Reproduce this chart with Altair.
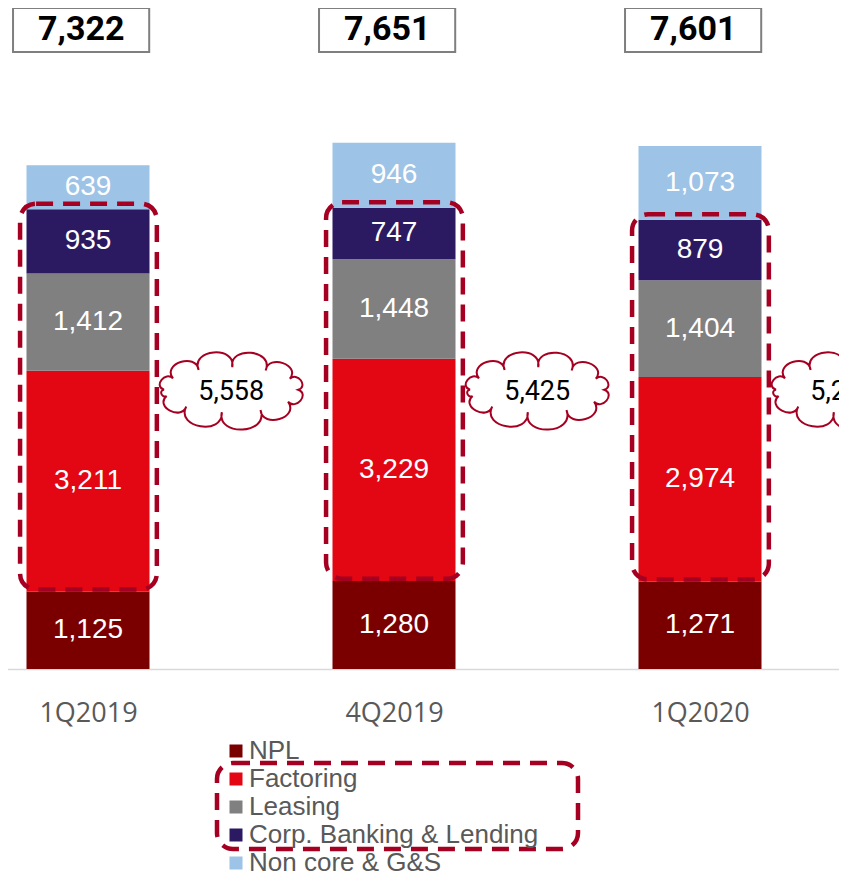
import altair as alt
import numpy as np
import pandas as pd

# ---------------- data ----------------
periods = ["1Q2019", "4Q2019", "1Q2020"]
segments = ["NPL", "Factoring", "Leasing", "Corp. Banking & Lending", "Non core & G&S"]
npl = [1125, 1280, 1271]
factoring = [3211, 3229, 2974]
leasing = [1412, 1448, 1404]
corp = [935, 747, 879]
noncore = [639, 946, 1073]
totals = [7322, 7651, 7601]
core_totals = [5558, 5425, 5257]
colors = ["#7A0000", "#E30613", "#808080", "#2B1A62", "#9DC3E6"]

series = [npl, factoring, leasing, corp, noncore]

rows = []
for i, p in enumerate(periods):
    base = 0
    for s, vals in zip(segments, series):
        v = vals[i]
        rows.append({"idx": i, "period": p, "segment": s, "value": v,
                     "y0": base, "y1": base + v, "mid": base + v / 2,
                     "label": f"{v:,}"})
        base += v
seg_df = pd.DataFrame(rows)

grp_df = pd.DataFrame({
    "idx": list(range(len(periods))),
    "total": [f"{t:,}" for t in totals],
    "core": [f"{c:,}" for c in core_totals],
    "r0": [npl[i] + 30 for i in range(3)],
    "r1": [npl[i] + factoring[i] + leasing[i] + corp[i] + 80 for i in range(3)],
})
grp_df["x0"] = grp_df["idx"] - 0.222
grp_df["x1"] = grp_df["idx"] + 0.225
grp_df["bx0"] = grp_df["idx"] - 0.245
grp_df["bx1"] = grp_df["idx"] + 0.20
grp_df["bxc"] = grp_df["idx"] - 0.022
grp_df["cx"] = grp_df["idx"] + 0.468


# ---------------- cloud shape ----------------
def cloud_path():
    rx, ry = 0.78, 0.30
    angs = np.deg2rad([180, 210, 241, 271, 301, 331, 360, 392, 424, 458, 492, 524])
    pts = np.array([[rx * np.cos(a), ry * np.sin(a)] for a in angs])
    n = len(pts)
    segs = []
    for k in range(n):
        p1 = pts[k]
        p2 = pts[(k + 1) % n]
        d = p2 - p1
        L = np.hypot(*d)
        t = d / L
        nrm = np.array([t[1], -t[0]])
        mid = (p1 + p2) / 2
        if np.dot(nrm, mid) < 0:
            nrm = -nrm
        h = 0.72 * L
        kk = 0.18 * L
        c1 = p1 + nrm * h - t * kk
        c2 = p2 + nrm * h + t * kk
        segs.append((p1, c1, c2, p2))
    ts = np.linspace(0, 1, 60)
    allp = []
    for p1, c1, c2, p2 in segs:
        for tt in ts:
            q = ((1 - tt) ** 3) * p1 + 3 * ((1 - tt) ** 2) * tt * c1 + 3 * (1 - tt) * tt * tt * c2 + tt ** 3 * p2
            allp.append(q)
    allp = np.array(allp)
    cxm = (allp[:, 0].max() + allp[:, 0].min()) / 2
    cym = (allp[:, 1].max() + allp[:, 1].min()) / 2
    sx = 1.0 / ((allp[:, 0].max() - allp[:, 0].min()) / 2)
    sy = 0.54 / ((allp[:, 1].max() - allp[:, 1].min()) / 2)

    def f(p):
        return f"{(p[0] - cxm) * sx:.4f},{(p[1] - cym) * sy:.4f}"

    s = "M" + f(segs[0][0])
    for p1, c1, c2, p2 in segs:
        s += " C" + f(c1) + " " + f(c2) + " " + f(p2)
    s += " Z"
    return s


CLOUD = cloud_path()

# ---------------- scales ----------------
STEP = 306.0
C0 = 80.0
W = 831
H = 661
x_scale = alt.Scale(domain=[(-8 - C0) / STEP, (W - C0) / STEP], range=[-8, W],
                    nice=False, zero=False, padding=0)
y_scale = alt.Scale(domain=[0, H / 0.0688], nice=False, zero=True, padding=0)

label_expr = "[" + ",".join(f"'{p}'" for p in periods) + "][datum.value]"

x_enc = alt.X("idx:Q", scale=x_scale,
              axis=alt.Axis(values=list(range(len(periods))), labelExpr=label_expr,
                            grid=False, ticks=False, title=None,
                            domainColor="#D9D9D9", domainWidth=1.5,
                            labelFont="Open Sans", labelFontSize=27, labelColor="#595959",
                            labelPadding=31, labelFlush=False, labelOverlap=False))

bars = alt.Chart(seg_df).mark_bar(width=123).encode(
    x=x_enc,
    y=alt.Y("y0:Q", scale=y_scale, axis=None),
    y2="y1:Q",
    color=alt.Color("segment:N",
                    scale=alt.Scale(domain=segments, range=colors),
                    sort=segments,
                    legend=alt.Legend(orient="none", legendX=215, legendY=730, title=None,
                                      symbolType="square", symbolSize=169, symbolStrokeWidth=0,
                                      symbolOpacity=1, labelLimit=0,
                                      labelFont="Liberation Sans", labelFontSize=26,
                                      labelColor="#595959", labelOffset=0, rowPadding=2,
                                      padding=0)),
)

seg_text = alt.Chart(seg_df).mark_text(font="Liberation Sans", fontSize=28, color="white",
                                       baseline="middle", align="center").encode(
    x=alt.X("idx:Q", scale=x_scale),
    y=alt.Y("mid:Q", scale=y_scale),
    text="label:N",
)

dash_rect = alt.Chart(grp_df).mark_rect(fillOpacity=0, stroke="#A50021", strokeWidth=4.5,
                                        strokeDash=[17, 10], cornerRadius=16).encode(
    x=alt.X("x0:Q", scale=x_scale), x2="x1:Q",
    y=alt.Y("r0:Q", scale=y_scale), y2="r1:Q",
)

clouds = alt.Chart(grp_df).mark_point(shape=CLOUD, size=143 ** 2, filled=True, fill="white",
                                      stroke="#A50021", strokeWidth=2, opacity=1).encode(
    x=alt.X("cx:Q", scale=x_scale),
    y=alt.value(383),
)

cloud_text = alt.Chart(grp_df).mark_text(font="Liberation Sans Narrow, Roboto", fontSize=27,
                                         color="black", baseline="middle", align="center").encode(
    x=alt.X("cx:Q", scale=x_scale),
    y=alt.value(384),
    text="core:N",
)

boxes = alt.Chart(grp_df).mark_rect(fill="white", stroke="#7F7F7F", strokeWidth=2).encode(
    x=alt.X("bx0:Q", scale=x_scale), x2="bx1:Q",
    y=alt.value(0), y2=alt.value(44),
)

box_text = alt.Chart(grp_df).mark_text(font="Liberation Sans Narrow, Roboto", fontSize=34,
                                       fontWeight="bold", color="black",
                                       baseline="middle", align="center").encode(
    x=alt.X("bxc:Q", scale=x_scale),
    y=alt.value(22),
    text="total:N",
)

legend_box = alt.Chart(pd.DataFrame({"a": [0]})).mark_rect(
    fillOpacity=0, stroke="#A50021", strokeWidth=4.5, strokeDash=[17, 10], cornerRadius=16
).encode(
    x=alt.value(209), x2=alt.value(570), y=alt.value(755), y2=alt.value(841),
)

chart = alt.layer(bars, seg_text, dash_rect, clouds, cloud_text, boxes, box_text, legend_box).properties(
    width=W, height=H,
    autosize=alt.AutoSizeParams(type="none"),
    padding={"left": 0, "right": 0, "top": 0, "bottom": 202},
).configure_view(stroke=None)

chart.save("out.html", embed_options={"renderer": "svg", "actions": False})
